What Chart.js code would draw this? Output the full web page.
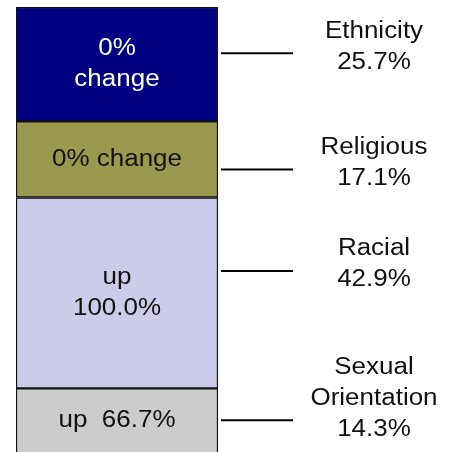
<!DOCTYPE html>
<html>
<head>
<meta charset="utf-8">
<script src="https://cdn.jsdelivr.net/npm/chart.js@4"></script>
<style>
  html, body { margin: 0; padding: 0; background: #fff; }
  #wrap { width: 452px; height: 452px; }
</style>
</head>
<body>
<div id="wrap"><canvas id="myChart" width="452" height="452"></canvas></div>
<script>
// stacked from bottom to top
var categories = ['Sexual Orientation', 'Racial', 'Religious', 'Ethnicity'];
var shares = [14.3, 42.9, 17.1, 25.7];
var changeText = [['up  66.7%'], ['up', '100.0%'], ['0% change'], ['0%', 'change']];
var sideText = [['Sexual', 'Orientation', '14.3%'], ['Racial', '42.9%'], ['Religious', '17.1%'], ['Ethnicity', '25.7%']];

var fills = ['#cccccc', '#ccccea', '#99994f', '#000080'];
var inkColors = ['#111', '#111', '#111', '#fff'];
var FONT = '23px "Liberation Sans", Arial, sans-serif';

// text in the reference is a bit wider than Liberation Sans
function wideText(c, t, x, y) {
  c.save();
  c.translate(x, y);
  c.scale(1.13, 1);
  c.fillText(t, 0, 0);
  c.restore();
}

var labelPlugin = {
  id: 'segLabels',
  afterDatasetsDraw: function (chart, args, opts) {
    var c = chart.ctx;
    var area = chart.chartArea;
    c.save();
    c.font = FONT;
    c.textAlign = 'center';
    c.textBaseline = 'middle';
    chart.data.datasets.forEach(function (ds, i) {
      var bar = chart.getDatasetMeta(i).data[0];
      var mid = (bar.y + bar.base) / 2;
      // text inside the segment
      var lines = changeText[i];
      c.fillStyle = inkColors[i];
      lines.forEach(function (t, k) {
        wideText(c, t, bar.x, mid + (k - (lines.length - 1) / 2) * 31);
      });
      // leader line and side label
      var ly = mid + opts.shift[i];
      c.strokeStyle = '#000';
      c.lineWidth = 2;
      c.beginPath();
      c.moveTo(area.right + 3, ly);
      c.lineTo(area.right + 75, ly);
      c.stroke();
      var side = sideText[i];
      c.fillStyle = '#111';
      side.forEach(function (t, k) {
        wideText(c, t, area.right + 156, ly + 9 - (side.length - 1 - k) * 31);
      });
    });
    c.restore();
  }
};

var ctx = document.getElementById('myChart').getContext('2d');
var myChart = new Chart(ctx, {
  type: 'bar',
  data: {
    labels: [''],
    datasets: categories.map(function (name, i) {
      return {
        label: name,
        data: [shares[i]],
        backgroundColor: fills[i],
        borderColor: '#111',
        borderWidth: 1.5,
        // bottom segment runs off the canvas edge, no base line
        borderSkipped: i === 0 ? 'start' : false,
        barPercentage: 1,
        categoryPercentage: 1
      };
    })
  },
  options: {
    responsive: false,
    animation: false,
    layout: { padding: { left: 16, right: 234, top: 7, bottom: 0 } },
    plugins: {
      legend: { display: false },
      tooltip: { enabled: false },
      segLabels: { shift: [0, -22, 10, -11] }
    },
    scales: {
      x: { stacked: true, display: false },
      y: { stacked: true, display: false, min: 0, max: 100 }
    }
  },
  plugins: [labelPlugin]
});
</script>
</body>
</html>
